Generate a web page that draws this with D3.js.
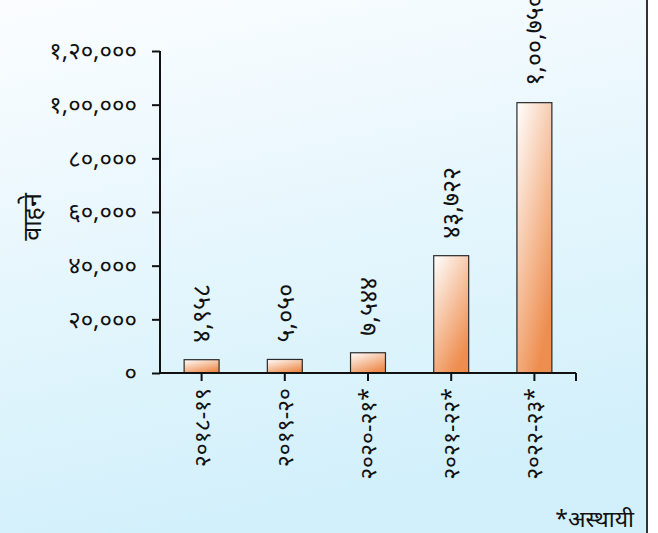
<!DOCTYPE html>
<html>
<head>
<meta charset="utf-8">
<script src="https://cdn.jsdelivr.net/npm/d3@7"></script>
<style>
  body { margin: 0; background: #fff; }
  text { font-family: "Noto Sans", "DejaVu Sans", sans-serif; fill: #111; }
</style>
</head>
<body>
<svg id="chart" width="658" height="533"></svg>
<script>
// data
var years = ['२०१८-१९', '२०१९-२०', '२०२०-२१*', '२०२१-२२*', '२०२२-२३*'];
var vehicles = [4958, 5050, 7544, 43722, 100750];
var yTicks = [0, 20000, 40000, 60000, 80000, 100000, 120000];
var yTitle = 'वाहने';
var note = '*अस्थायी';

// indian grouping + devanagari digits
function npNum(n) {
  var s = String(n), out;
  if (s.length > 3) {
    var last = s.slice(-3), rest = s.slice(0, -3);
    rest = rest.replace(/\B(?=(\d{2})+(?!\d))/g, ',');
    out = rest + ',' + last;
  } else { out = s; }
  return out.replace(/\d/g, function(d) { return '०१२३४५६७८९'[+d]; });
}

var svg = d3.select('#chart');
var defs = svg.append('defs');

var bg = defs.append('linearGradient').attr('id', 'bg')
  .attr('x1', 0).attr('y1', 0).attr('x2', 0.25).attr('y2', 1);
bg.append('stop').attr('offset', '0%').attr('stop-color', '#fbfdff');
bg.append('stop').attr('offset', '100%').attr('stop-color', '#d2f0fb');

var barGrad = defs.append('linearGradient').attr('id', 'barGrad')
  .attr('x1', 0).attr('y1', 0).attr('x2', 0.6).attr('y2', 1);
barGrad.append('stop').attr('offset', '0%').attr('stop-color', '#ffffff');
barGrad.append('stop').attr('offset', '100%').attr('stop-color', '#ee8d4e');

svg.append('rect')
  .attr('x', 0).attr('y', 0)
  .attr('width', 647).attr('height', 533)
  .style('fill', 'url(#bg)');
svg.append('line')
  .attr('x1', 647).attr('y1', 0).attr('x2', 647).attr('y2', 533)
  .attr('stroke', '#333').attr('stroke-width', 2);

var x = d3.scaleBand()
  .domain(years)
  .range([160, 576])
  .paddingInner(0.58)
  .paddingOuter(0.29);

var y = d3.scaleLinear()
  .domain([0, 120000])
  .range([373, 51]);

// bars
svg.selectAll('rect.bar')
  .data(vehicles)
  .enter()
  .append('rect')
  .attr('class', 'bar')
  .attr('x', function(d, i) { return x(years[i]); })
  .attr('y', function(d) { return y(d); })
  .attr('width', x.bandwidth())
  .attr('height', function(d) { return y(0) - y(d); })
  .style('fill', 'url(#barGrad)')
  .attr('stroke', '#2a2a2a')
  .attr('stroke-width', 1.2);

// value labels
svg.selectAll('text.val')
  .data(vehicles)
  .enter()
  .append('text')
  .attr('class', 'val')
  .attr('transform', function(d, i) {
    return 'translate(' + (x(years[i]) + x.bandwidth() / 2) + ',' + (y(d) - 17) + ') rotate(-90)';
  })
  .attr('dy', '0.35em')
  .style('font-size', '25px')
  .text(function(d) { return npNum(d); });

// y axis
var yAxis = d3.axisLeft(y)
  .tickValues(yTicks)
  .tickSize(8)
  .tickPadding(15)
  .tickFormat(npNum);
var gy = svg.append('g')
  .attr('transform', 'translate(160,0)')
  .call(yAxis);
gy.select('.domain').attr('stroke', '#111').attr('stroke-width', 2).attr('d', 'M0,51V373');
gy.selectAll('.tick line').attr('stroke', '#111').attr('stroke-width', 2);
gy.selectAll('.tick text').style('font-size', '24px').style('font-family', '"Noto Sans", "DejaVu Sans", sans-serif').attr('fill', '#111');

// x axis
var xAxis = d3.axisBottom(x).tickSize(8).tickFormat('');
var gx = svg.append('g')
  .attr('transform', 'translate(0,373)')
  .call(xAxis);
gx.select('.domain').attr('stroke', '#111').attr('stroke-width', 2).attr('d', 'M160,0H576');
gx.selectAll('.tick line').attr('stroke', '#111').attr('stroke-width', 2);
gx.append('line').attr('x1', 576).attr('x2', 576).attr('y1', 0).attr('y2', 8)
  .attr('stroke', '#111').attr('stroke-width', 2);

svg.selectAll('text.cat')
  .data(years)
  .enter()
  .append('text')
  .attr('class', 'cat')
  .attr('transform', function(d) {
    return 'translate(' + (x(d) + x.bandwidth() / 2) + ',388) rotate(-90)';
  })
  .attr('dy', '0.35em')
  .attr('text-anchor', 'end')
  .style('font-size', '23px')
  .text(function(d) { return d; });

// y title
svg.append('text')
  .attr('transform', 'translate(32,217) rotate(-90)')
  .attr('dy', '0.35em')
  .attr('text-anchor', 'middle')
  .style('font-size', '25px')
  .text(yTitle);

// footnote
svg.append('text')
  .attr('x', 634).attr('y', 527)
  .attr('text-anchor', 'end')
  .style('font-size', '23px')
  .text(note);
</script>
</body>
</html>
